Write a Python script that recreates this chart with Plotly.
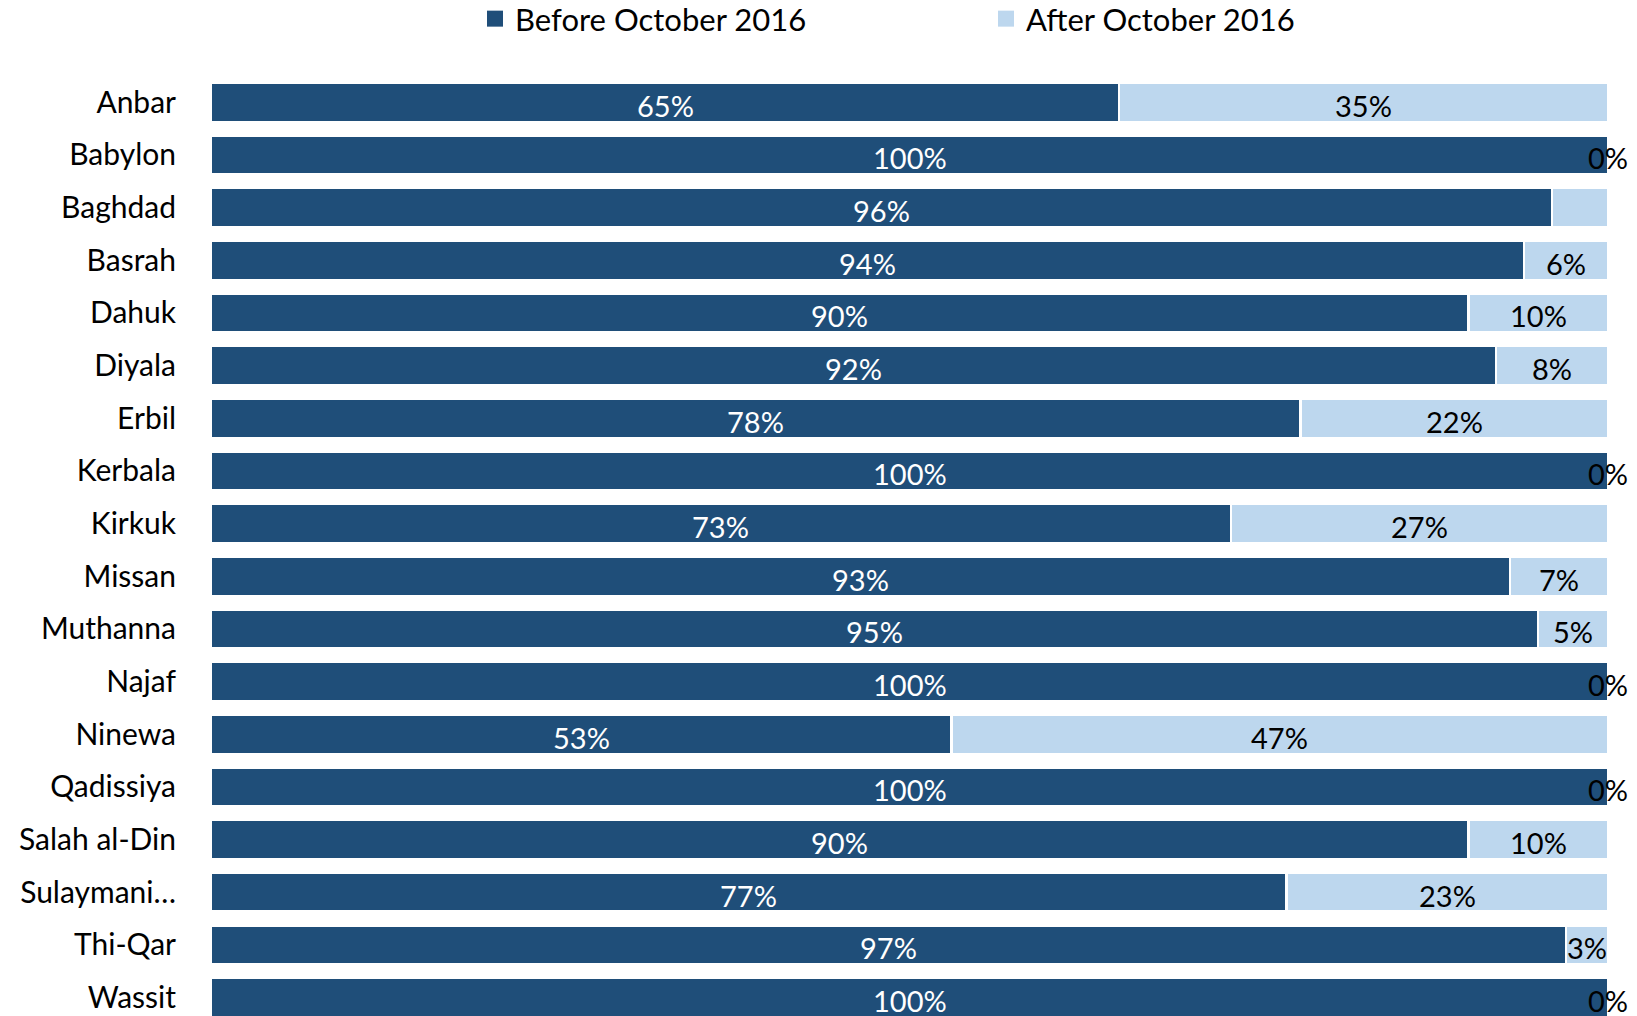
import plotly.graph_objects as go

categories = ["Anbar", "Babylon", "Baghdad", "Basrah", "Dahuk", "Diyala", "Erbil",
              "Kerbala", "Kirkuk", "Missan", "Muthanna", "Najaf", "Ninewa",
              "Qadissiya", "Salah al-Din", "Sulaymani…", "Thi-Qar", "Wassit"]
before = [65, 100, 96, 94, 90, 92, 78, 100, 73, 93, 95, 100, 53, 100, 90, 77, 97, 100]
after = [35, 0, 4, 6, 10, 8, 22, 0, 27, 7, 5, 0, 47, 0, 10, 23, 3, 0]
before_labels = [f"{v}%" for v in before]
after_labels = ["" if c == "Baghdad" else f"{v}%" for c, v in zip(categories, after)]

DARK = "#1F4E79"
LIGHT = "#BDD7EE"
FONT = "Lato"

fig = go.Figure()
fig.add_trace(go.Bar(y=categories, x=before, orientation="h", name="Before October 2016",
                     marker=dict(color=DARK, line=dict(color="white", width=2.5)),
                     showlegend=False, hoverinfo="skip"))
fig.add_trace(go.Bar(y=categories, x=after, orientation="h", name="After October 2016",
                     marker=dict(color=LIGHT, line=dict(color="white", width=2.5)),
                     showlegend=False, hoverinfo="skip"))

# labels centred on each segment
annotations = []
for c, b, a, tb, ta in zip(categories, before, after, before_labels, after_labels):
    annotations.append(dict(x=b / 2, y=c, xref="x", yref="y", text=tb, showarrow=False,
                            yshift=-3, font=dict(family=FONT, size=29, color="white")))
    if ta:
        annotations.append(dict(x=b + a / 2, y=c, xref="x", yref="y", text=ta, showarrow=False,
                                yshift=-3, font=dict(family=FONT, size=29, color="black")))

# legend entries
fig.add_trace(go.Scatter(x=[None], y=[None], mode="markers", name="Before October 2016",
                         marker=dict(symbol="square", size=16, color=DARK)))
fig.add_trace(go.Scatter(x=[None], y=[None], mode="markers", name="After October 2016",
                         marker=dict(symbol="square", size=16, color=LIGHT)))

fig.update_layout(
    width=1637, height=1016,
    barmode="stack", bargap=0.26,
    margin=dict(l=211, r=29, t=76, b=0, autoexpand=False),
    plot_bgcolor="white", paper_bgcolor="white",
    font=dict(family=FONT, size=30, color="black"),
    annotations=annotations,
    legend=dict(orientation="h", xref="container", yref="container", traceorder="normal",
                x=475 / 1637, xanchor="left", y=1 - 19 / 1016, yanchor="middle",
                entrywidthmode="pixels", entrywidth=466,
                font=dict(family=FONT, size=31, color="black"),
                itemsizing="trace"),
    xaxis=dict(range=[0, 100], visible=False, fixedrange=True),
    yaxis=dict(type="category", categoryorder="array", categoryarray=categories,
               range=[17.35, -0.5], autorange=False, showgrid=False, zeroline=False,
               showline=False, ticks="", ticklabelstandoff=34, automargin=False,
               tickfont=dict(family=FONT, size=30, color="black")),
)

fig.write_html("out.html", config={"displayModeBar": False},
               post_script="document.body.style.margin='0';document.body.style.overflow='hidden';")
